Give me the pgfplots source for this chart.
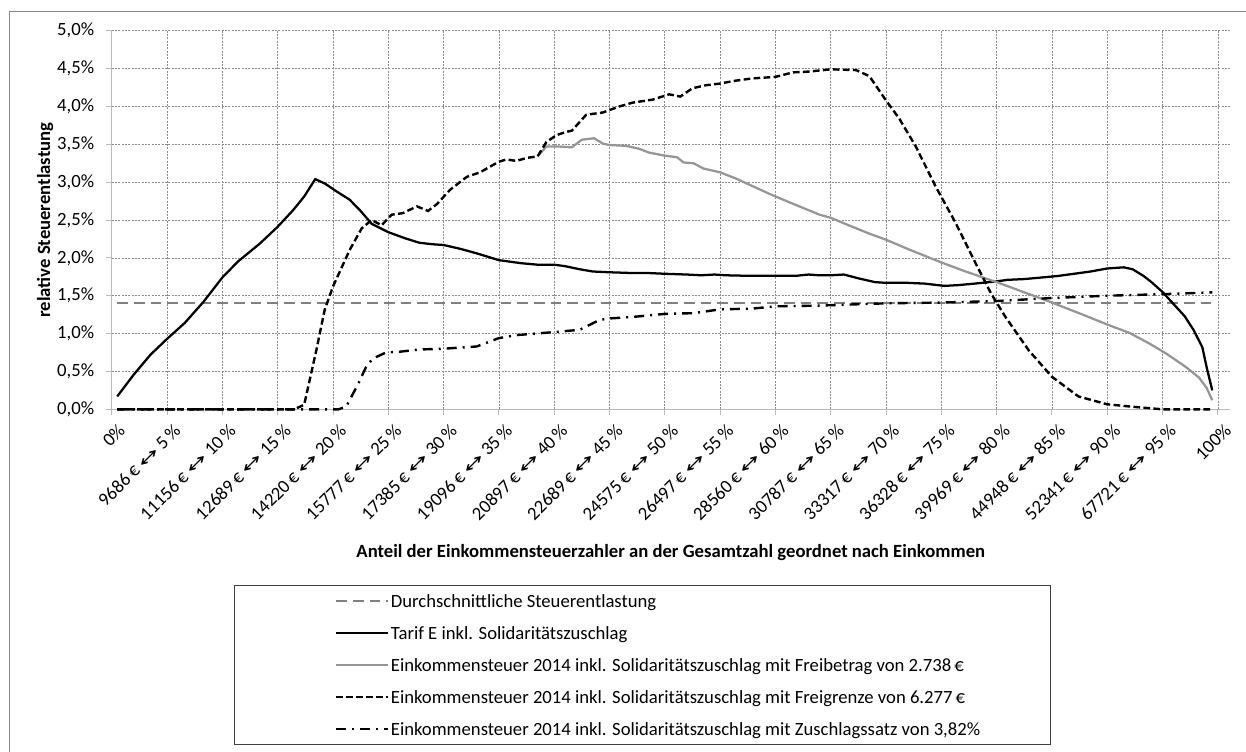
\documentclass[border=0pt]{standalone}
\usepackage{graphicx}
\usepackage{pgfplots}
\pgfplotsset{compat=1.18}
\usepackage{pgfplotstable}
\usepackage{fontspec}
\setmainfont{Carlito}
\newfontfamily\arrfont{DejaVu Sans}
\newcommand{\lr}{{\arrfont\fontsize{12}{12}\selectfont\scalebox{1.7}[1]{↔}}}
\newcommand{\xl}[2]{#1\,€ \lr{} #2\,\%}
\newcommand{\tfont}{\fontsize{14}{16}\selectfont}
\newcommand{\xt}[2]{\node[xshift=7.65pt, yshift=-13.3pt, rotate=45, anchor=east, inner sep=0pt, font=\tfont] at (axis cs:#1,0) {#2};}
\newcommand{\yt}[2]{\node[xshift=-13pt, anchor=east, inner sep=0pt, font=\tfont] at (axis cs:0,#1) {#2};}
\definecolor{avggray}{RGB}{128,128,128}
\definecolor{fbgray}{RGB}{150,150,150}
\definecolor{gridgray}{RGB}{140,140,140}
\definecolor{axgray}{RGB}{185,185,185}
\definecolor{framegray}{RGB}{134,134,134}

\pgfplotstableread{
x y
0.5 1.4
99.5 1.4
}\avg

\pgfplotstableread{
x y
0.5 0.17
2.0 0.46
3.5 0.72
5.0 0.93
6.6 1.14
8.3 1.42
10.0 1.74
11.4 1.95
13.4 2.19
15.0 2.41
16.4 2.63
17.4 2.81
18.4 3.04
19.3 2.98
20.3 2.88
21.5 2.77
22.5 2.62
23.5 2.45
25.0 2.34
26.5 2.26
27.8 2.20
29.0 2.18
30.0 2.17
31.5 2.12
33.0 2.06
35.0 1.97
37.0 1.93
38.5 1.91
40.0 1.91
41.0 1.89
42.3 1.85
43.5 1.82
45.0 1.81
47.0 1.80
48.5 1.80
50.0 1.79
52.0 1.78
53.3 1.77
54.5 1.78
55.5 1.77
57.0 1.765
60.0 1.765
62.0 1.765
63.0 1.78
64.0 1.77
65.0 1.77
66.2 1.78
67.5 1.73
69.0 1.68
70.0 1.67
72.0 1.67
73.5 1.66
75.3 1.63
76.5 1.64
78.0 1.66
80.0 1.69
81.0 1.71
82.5 1.72
84.0 1.74
85.5 1.76
87.0 1.79
88.5 1.82
90.0 1.86
91.5 1.875
92.3 1.85
93.3 1.76
94.0 1.68
95.0 1.55
96.0 1.39
97.0 1.23
97.8 1.05
98.6 0.82
99.0 0.55
99.5 0.25
}\tarif

\pgfplotstableread{
x y
38.5 3.34
39.3 3.47
40.5 3.47
41.6 3.46
42.5 3.56
43.6 3.58
44.4 3.51
45.0 3.49
46.5 3.48
47.7 3.44
48.6 3.39
50.0 3.35
51.1 3.33
51.7 3.26
52.6 3.25
53.5 3.18
55.0 3.13
56.4 3.05
57.9 2.95
59.7 2.83
61.5 2.72
63.0 2.63
64.0 2.57
65.0 2.53
66.8 2.42
68.5 2.32
70.0 2.24
72.1 2.11
75.0 1.94
77.2 1.82
80.0 1.68
82.6 1.54
85.0 1.41
87.8 1.25
90.0 1.12
92.0 1.01
93.8 0.87
95.3 0.74
97.1 0.56
98.3 0.42
99.0 0.28
99.5 0.12
}\freibetrag

\pgfplotstableread{
x y
0.5 0
16.5 0
17.4 0.06
18.5 0.78
19.25 1.31
20.0 1.62
21.5 2.10
22.6 2.39
23.5 2.50
24.4 2.43
25.3 2.57
26.3 2.59
27.6 2.68
28.6 2.62
29.4 2.71
30.6 2.90
32.1 3.07
33.3 3.13
35.0 3.27
35.7 3.30
36.6 3.28
37.5 3.32
38.5 3.34
39.3 3.53
40.2 3.62
41.0 3.66
41.6 3.68
42.9 3.89
44.4 3.92
45.9 4.00
47.1 4.05
48.9 4.09
50.4 4.16
51.4 4.13
52.5 4.24
53.7 4.28
54.9 4.30
56.4 4.34
57.9 4.37
60.0 4.39
61.6 4.45
63.0 4.46
65.0 4.49
67.3 4.48
68.5 4.40
70.0 4.08
71.2 3.84
72.7 3.47
74.5 2.94
76.3 2.46
78.1 1.93
79.5 1.53
80.8 1.22
82.9 0.78
85.0 0.43
87.4 0.17
90.0 0.066
92.2 0.035
95.0 0.0
99.5 0.0
}\freigrenze

\pgfplotstableread{
x y
0.5 0
20.5 0
21.2 0.035
22.3 0.34
23.0 0.56
23.6 0.67
24.8 0.75
26.0 0.76
27.8 0.79
30.0 0.80
33.0 0.83
35.0 0.94
36.6 0.98
40.0 1.02
42.3 1.05
44.1 1.18
45.0 1.20
47.1 1.22
50.0 1.26
52.6 1.27
55.0 1.32
57.9 1.33
60.0 1.36
64.0 1.37
70.0 1.40
75.0 1.41
80.0 1.43
85.0 1.47
90.0 1.50
92.3 1.51
95.0 1.52
99.5 1.545
}\zuschlag

\begin{document}
\begin{tikzpicture}
\useasboundingbox (0pt,0pt) rectangle (934.5pt,-563.25pt);
\draw[framegray, line width=0.8pt] (7pt,-570pt) -- (7pt,-8.8pt) -- (940pt,-8.8pt);
\begin{axis}[
  at={(83.775pt,-306.975pt)}, anchor=south west,
  scale only axis, width=838.7pt, height=283.95pt,
  xmin=0, xmax=101.1, ymin=0, ymax=5,
  clip=false,
  axis x line=bottom, axis y line=left,
  axis line style={-, draw=axgray, line width=0.8pt},
  tick align=outside, major tick length=4pt,
  tick style={draw=axgray, line width=0.6pt},
  grid=major,
  major grid style={draw=gridgray, line width=0.45pt, dash pattern=on 1.5pt off 1pt},
  xtick={0,5,...,100},
  xticklabels={},
  ytick={0,0.5,...,5},
  yticklabels={},
  legend image code/.code={\draw[#1] (0pt,0pt) -- (39pt,0pt); \path[draw=none,fill=none] (0pt,0pt) rectangle (0.1pt,3pt);},
  legend cell align=left,
  legend style={at={(axis description cs:0.10936,-0.4641)}, anchor=north west,
    draw=black!75, line width=0.8pt, inner xsep=75.5pt, inner ysep=5pt,
    row sep=10.8pt, column sep=1pt, font=\tfont, nodes={inner sep=0pt, text depth=2pt}},
]
\addplot[avggray, line width=1.6pt, dash pattern=on 8pt off 4.5pt] table[x=x,y=y] {\avg};
\addlegendentry{\makebox[419pt][l]{\strut Durchschnittliche Steuerentlastung}}
\addplot[black, line width=1.7pt] table[x=x,y=y] {\tarif};
\addlegendentry{\makebox[419pt][l]{\strut Tarif E inkl. Solidaritätszuschlag}}
\addplot[fbgray, line width=1.7pt] table[x=x,y=y] {\freibetrag};
\addlegendentry{\makebox[419pt][l]{\strut Einkommensteuer 2014 inkl. Solidaritätszuschlag mit Freibetrag von 2.738\,€}}
\addplot[black, line width=1.8pt, dash pattern=on 5pt off 2.5pt] table[x=x,y=y] {\freigrenze};
\addlegendentry{\makebox[419pt][l]{\strut Einkommensteuer 2014 inkl. Solidaritätszuschlag mit Freigrenze von 6.277\,€}}
\addplot[black, line width=1.8pt, dash pattern=on 7.5pt off 4.5pt on 1.5pt off 4.5pt] table[x=x,y=y] {\zuschlag};
\addlegendentry{\makebox[419pt][l]{\strut Einkommensteuer 2014 inkl. Solidaritätszuschlag mit Zuschlagssatz von 3,82\%}}
\yt{0}{0,0\%}
\yt{0.5}{0,5\%}
\yt{1}{1,0\%}
\yt{1.5}{1,5\%}
\yt{2}{2,0\%}
\yt{2.5}{2,5\%}
\yt{3}{3,0\%}
\yt{3.5}{3,5\%}
\yt{4}{4,0\%}
\yt{4.5}{4,5\%}
\yt{5}{5,0\%}
\xt{0}{0\%}
\xt{5}{\xl{9686}{5}}
\xt{10}{\xl{11156}{10}}
\xt{15}{\xl{12689}{15}}
\xt{20}{\xl{14220}{20}}
\xt{25}{\xl{15777}{25}}
\xt{30}{\xl{17385}{30}}
\xt{35}{\xl{19096}{35}}
\xt{40}{\xl{20897}{40}}
\xt{45}{\xl{22689}{45}}
\xt{50}{\xl{24575}{50}}
\xt{55}{\xl{26497}{55}}
\xt{60}{\xl{28560}{60}}
\xt{65}{\xl{30787}{65}}
\xt{70}{\xl{33317}{70}}
\xt{75}{\xl{36328}{75}}
\xt{80}{\xl{39969}{80}}
\xt{85}{\xl{44948}{85}}
\xt{90}{\xl{52341}{90}}
\xt{95}{\xl{67721}{95}}
\xt{100}{100\%}
\node[font=\tfont\bfseries, rotate=90] at (axis description cs:-0.0596,0.5) {relative Steuerentlastung};
\node[font=\tfont\bfseries] at (axis description cs:0.5,-0.3788) {Anteil der Einkommensteuerzahler an der Gesamtzahl geordnet nach Einkommen};
\end{axis}
\end{tikzpicture}
\end{document}
